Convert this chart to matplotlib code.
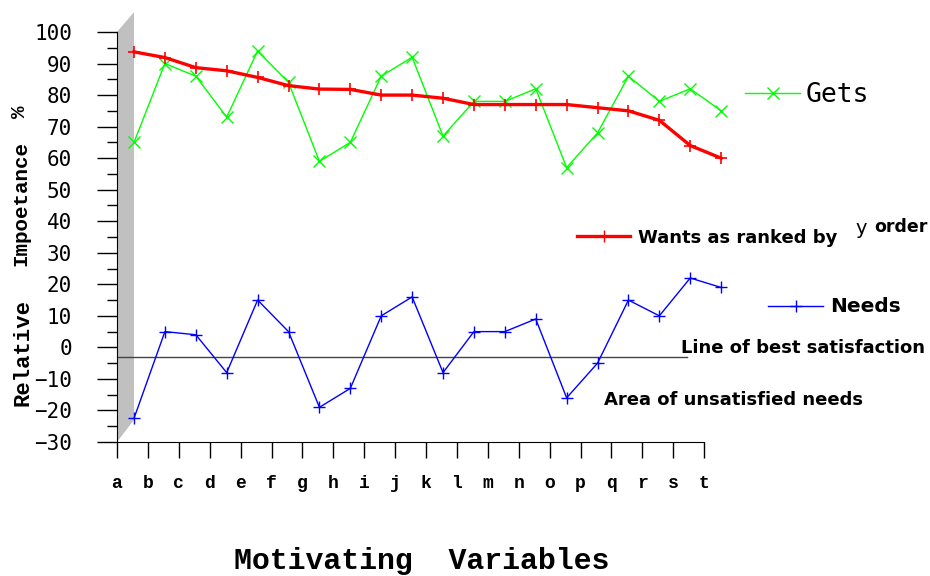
import numpy as np
import matplotlib
matplotlib.use("Agg")
import matplotlib.pyplot as plt
from matplotlib.lines import Line2D
from matplotlib.patches import Polygon

# data
categories = list("abcdefghijklmnopqrst")
wants = [93.7, 91.9, 88.7, 87.7, 85.6, 83.0, 81.9, 81.8, 80.0, 80.0,
         79.0, 77.0, 77.0, 77.0, 77.0, 76.0, 75.0, 72.0, 64.0, 60.0]
gets = [65, 90, 86, 73, 94, 84, 59, 65, 86, 92,
        67, 78, 78, 82, 57, 68, 86, 78, 82, 75]
needs = [-22.5, 5, 4, -8, 15, 5, -19, -13, 10, 16,
         -8, 5, 5, 9, -16, -5, 15, 10, 22, 19]
best_satisfaction = -3

W, H = 930, 576
DEPTH = 0.55  # 3d wall offset in category units

fig = plt.figure(figsize=(W / 100, H / 100), dpi=100)
ax = fig.add_axes([117 / W, 134 / H, (740 - 117) / W, 410 / H])


def px(x, y):
    # pixel position (from top left) to figure fraction
    return x / W, 1 - y / H


x = np.arange(len(categories)) + DEPTH

# grey 3d wall along the value axis
wall = Polygon([(0, 100), (DEPTH, 106.3), (DEPTH, -23), (0, -30)],
               closed=True, facecolor="#c0c0c0", edgecolor="none",
               clip_on=False, zorder=1)
ax.add_patch(wall)

ax.axhline(best_satisfaction, xmin=0, xmax=18.44 / 20.16, color="#444444", lw=1, zorder=2)

ax.plot(x, gets, color="#00ff00", lw=1, marker="x", ms=8, mew=1, zorder=3, clip_on=False)
ax.plot(x, wants, color="#ff0000", lw=2.4, marker="+", ms=8, mew=1.2, zorder=4, clip_on=False)
ax.plot(x, needs, color="#0000ff", lw=1, marker="+", ms=8, mew=1, zorder=3, clip_on=False)

ax.set_xlim(0, 20.16)
ax.set_ylim(-30, 100)

for s in ["top", "right"]:
    ax.spines[s].set_visible(False)
ax.spines["bottom"].set_bounds(0, 19)
ax.spines["left"].set_zorder(5)

ax.set_yticks(range(-30, 101, 10))
ax.set_yticks(range(-25, 100, 10), minor=True)
ax.set_xticks(range(len(categories)))
ax.set_xticklabels(categories, family="Liberation Mono", fontweight="bold", fontsize=13)
ax.tick_params(axis="y", which="major", length=14.4, width=1, pad=18, labelsize=15)
ax.tick_params(axis="y", which="minor", length=7.2, width=1)
ax.tick_params(axis="x", which="major", length=11.5, width=1, pad=12)
for lab in ax.get_yticklabels():
    lab.set_family("DejaVu Sans Mono")

# legend samples drawn by hand beside the plot
def sample(x0, x1, y, color, marker, lw, ms):
    (a, b), (c, _) = px(x0, y), px(x1, y)
    fig.add_artist(Line2D([a, (a + c) / 2, c], [b, b, b], color=color, lw=lw,
                          marker=marker, ms=ms, markevery=[1], transform=fig.transFigure))

sample(745, 800, 93, "#00ff00", "x", 1, 9)
sample(577, 630, 236, "#ff0000", "+", 2.4, 8)
sample(768, 823, 306, "#0000ff", "+", 1, 8)

bold = dict(family="DejaVu Sans", fontweight="bold", va="center")
fig.text(*px(806, 95), "Gets", family="DejaVu Sans Mono", fontsize=19, va="center")
fig.text(*px(638, 238), "Wants as ranked by", fontsize=13, **bold)
fig.text(*px(855, 229), "y", family="DejaVu Sans", fontsize=14, va="center")
fig.text(*px(874, 227), "order", fontsize=12.5, **bold)
fig.text(*px(830, 306), "Needs", fontsize=14.5, **bold)
fig.text(*px(681, 348), "Line of best satisfaction", fontsize=13, **bold)
fig.text(*px(604, 400), "Area of unsatisfied needs", fontsize=13, **bold)

fig.text(*px(422, 561), "Motivating  Variables", family="Liberation Mono", fontweight="bold",
         fontsize=21.5, ha="center", va="center")

fig.text(*px(23, 352), "Relative", family="Liberation Mono", fontweight="bold", fontsize=16,
         rotation=90, ha="center", va="center")
fig.text(*px(21, 203), "Impoetance", family="Liberation Mono", fontweight="bold", fontsize=15,
         rotation=90, ha="center", va="center")
fig.text(*px(19, 112), "%", family="Liberation Mono", fontweight="bold", fontsize=15,
         rotation=90, ha="center", va="center")

fig.savefig("out.png", dpi=100)
